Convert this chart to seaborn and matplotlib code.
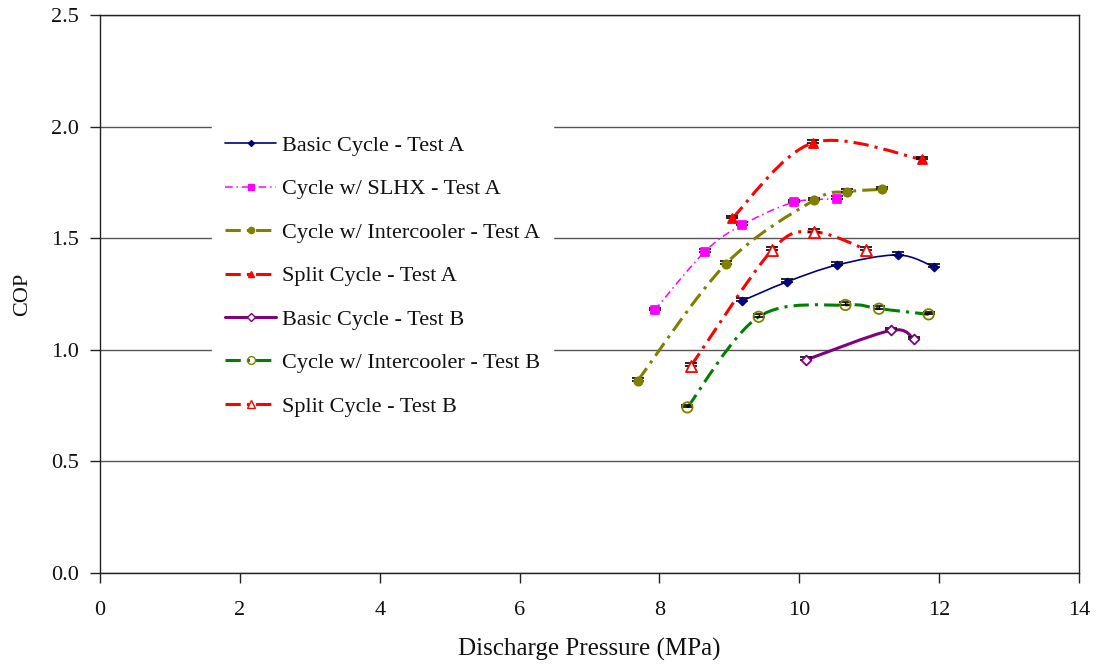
import numpy as np
import pandas as pd
import matplotlib
matplotlib.use("Agg")
import matplotlib.pyplot as plt
from matplotlib.path import Path
from matplotlib.patches import PathPatch
from matplotlib.lines import Line2D
import seaborn as sns

# ---------------- data ----------------
basic_a_x = [9.18, 9.82, 10.54, 11.41, 11.93]
basic_a_y = [1.219, 1.304, 1.380, 1.425, 1.371]

slhx_a_x = [7.93, 8.65, 9.18, 9.92, 10.54]
slhx_a_y = [1.177, 1.440, 1.559, 1.661, 1.676]

inter_a_x = [7.69, 8.95, 10.21, 10.68, 11.19]
inter_a_y = [0.862, 1.385, 1.670, 1.708, 1.719]

split_a_x = [9.04, 10.20, 11.76]
split_a_y = [1.589, 1.928, 1.853]

basic_b_x = [10.09, 11.31, 11.64]
basic_b_y = [0.954, 1.087, 1.047]

inter_b_x = [8.40, 9.42, 10.66, 11.14, 11.85]
inter_b_y = [0.742, 1.148, 1.201, 1.184, 1.159]

split_b_x = [8.45, 9.61, 10.21, 10.96]
split_b_y = [0.927, 1.447, 1.528, 1.449]

labels = ["Basic Cycle - Test A", "Cycle w/ SLHX - Test A",
          "Cycle w/ Intercooler - Test A", "Split Cycle - Test A",
          "Basic Cycle - Test B", "Cycle w/ Intercooler - Test B",
          "Split Cycle - Test B"]

x_ticks = [0, 2, 4, 6, 8, 10, 12, 14]
y_ticks = [0.0, 0.5, 1.0, 1.5, 2.0, 2.5]

# ---------------- styles ----------------
DD_THICK = (0, (5, 2, 1, 2))
DD_THIN = (0, (5, 2.5, 1, 2.5))
styles = [
    dict(color="#000080", lw=1.2, ls="-", marker="D", ms=4, mfc="#000080", mec="#000080"),
    dict(color="#FF00FF", lw=1.1, ls=DD_THIN, marker="s", ms=5.5, mfc="#FF00FF", mec="#FF00FF"),
    dict(color="#808000", lw=2.2, ls=DD_THICK, marker="o", ms=6, mfc="#808000", mec="#808000"),
    dict(color="#FF0000", lw=2.2, ls=DD_THICK, marker="^", ms=6.5, mfc="#FF0000", mec="#FF0000"),
    dict(color="#800080", lw=2.2, ls="-", marker="D", ms=5, mfc="white", mec="#800080"),
    dict(color="#008000", lw=2.2, ls=DD_THICK, marker="o", ms=7.5, mfc="none", mec="#808000"),
    dict(color="#FF0000", lw=2.2, ls=DD_THICK, marker="^", ms=8, mfc="white", mec="#FF0000"),
]
series = [(basic_a_x, basic_a_y), (slhx_a_x, slhx_a_y), (inter_a_x, inter_a_y),
          (split_a_x, split_a_y), (basic_b_x, basic_b_y), (inter_b_x, inter_b_y),
          (split_b_x, split_b_y)]

sns.set_theme(style="white")
plt.rcParams["font.family"] = ["Liberation Serif", "DejaVu Serif"]

fig = plt.figure(figsize=(11, 6.68), dpi=100)
ax = fig.add_axes([0.0909, 0.1422, 0.8900, 0.8353])


def smooth_path(xs, ys):
    """Excel-like smoothed line: cubic Bezier through the data points."""
    p = np.column_stack([xs, ys]).astype(float)
    n = len(p)
    verts = [p[0]]
    codes = [Path.MOVETO]
    for i in range(n - 1):
        p0 = p[i - 1] if i > 0 else p[i]
        p1, p2 = p[i], p[i + 1]
        p3 = p[i + 2] if i + 2 < n else p[i + 1]
        c1 = p1 + (p2 - p0) / 6.0
        c2 = p2 - (p3 - p1) / 6.0
        verts += [c1, c2, p2]
        codes += [Path.CURVE4] * 3
    return Path(verts, codes)


handles = []
for (xs, ys), st, lab in zip(series, styles, labels):
    patch = PathPatch(smooth_path(xs, ys), facecolor="none", edgecolor=st["color"],
                      lw=st["lw"], ls=st["ls"], zorder=3, capstyle="butt")
    ax.add_patch(patch)
    ax.errorbar(xs, ys, yerr=[np.zeros(len(ys)), np.full(len(ys), 0.012)],
                fmt="none", ecolor="black", elinewidth=1.0, capsize=4, capthick=1.2, zorder=4)
    df = pd.DataFrame({"x": xs, "y": ys})
    sns.scatterplot(data=df, x="x", y="y", ax=ax, marker=st["marker"], s=st["ms"] ** 2,
                    color=st["mfc"] if st["mfc"] != "none" else "none",
                    edgecolor=st["mec"], linewidth=1.3, zorder=5, legend=False)
    handles.append(Line2D([0], [0], color=st["color"], lw=st["lw"], ls=st["ls"],
                          marker=st["marker"], ms=st["ms"] * 0.75, mfc=st["mfc"],
                          mec=st["mec"], label=lab))

ax.set_xlim(0, 14)
ax.set_ylim(0, 2.5)
ax.set_xticks(x_ticks)
ax.set_xticklabels([str(t) for t in x_ticks])
ax.set_yticks(y_ticks)
ax.set_yticklabels([f"{t:.1f}" for t in y_ticks])

ax.yaxis.grid(True, color="#555555", lw=1.0)
ax.xaxis.grid(False)
ax.set_axisbelow(True)
for s in ["left", "bottom", "right", "top"]:
    ax.spines[s].set_visible(True)
    ax.spines[s].set_color("#222222")
    ax.spines[s].set_linewidth(1.0)

ax.tick_params(axis="both", which="major", direction="out", length=7, width=1,
               color="#222222", labelsize=16, labelcolor="#111111", pad=8, left=True, bottom=True)
ax.tick_params(axis="x", pad=13)

ax.set_xlabel("Discharge Pressure (MPa)", fontsize=18, color="#111111", labelpad=13)
ax.set_ylabel("COP", fontsize=16, color="#111111", labelpad=14)

leg = ax.legend(handles=handles, loc="upper left", bbox_to_anchor=(0.1144, 0.808),
                borderaxespad=0, fontsize=16, frameon=True, framealpha=1.0, facecolor="white",
                edgecolor="white", handlelength=2.3, handletextpad=0.25,
                labelspacing=1.03, borderpad=0.6, fancybox=False)
leg.set_zorder(6)
for t in leg.get_texts():
    t.set_color("#111111")

fig.savefig("out.png", dpi=100)
